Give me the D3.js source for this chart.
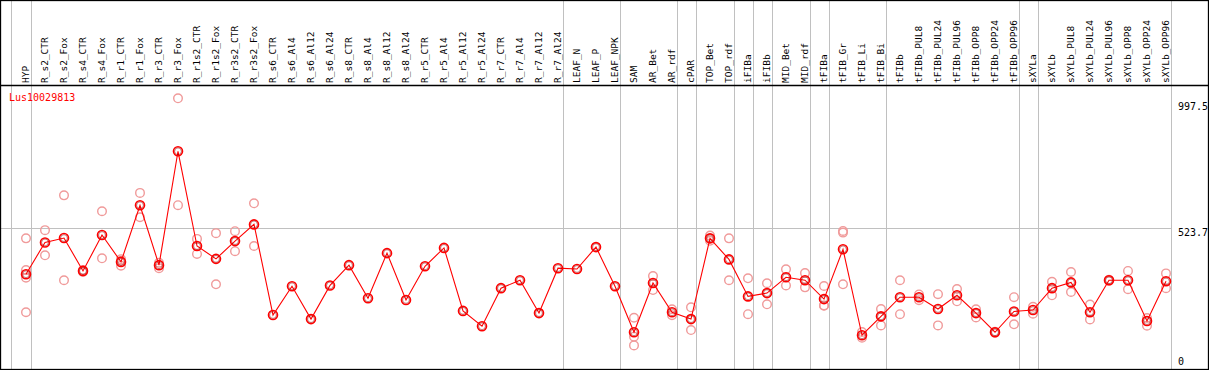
<!DOCTYPE html>
<html><head><meta charset="utf-8">
<script src="https://cdn.jsdelivr.net/npm/d3@7"></script>
<style>
html,body{margin:0;padding:0;background:#fff;}
svg{display:block;}
text{font-family:"DejaVu Sans Mono",monospace;}
</style></head>
<body><svg id="c" width="1209" height="370"></svg>
<script>
const title = "Lus10029813";
const categories = ["HYP","R_s2_CTR","R_s2_Fox","R_s4_CTR","R_s4_Fox","R_r1_CTR","R_r1_Fox","R_r3_CTR","R_r3_Fox","R_r1s2_CTR","R_r1s2_Fox","R_r3s2_CTR","R_r3s2_Fox","R_s6_CTR","R_s6_Al4","R_s6_Al12","R_s6_Al24","R_s8_CTR","R_s8_Al4","R_s8_Al12","R_s8_Al24","R_r5_CTR","R_r5_Al4","R_r5_Al12","R_r5_Al24","R_r7_CTR","R_r7_Al4","R_r7_Al12","R_r7_Al24","LEAF_N","LEAF_P","LEAF_NPK","SAM","AR_Bet","AR_rdf","cPAR","TOP_Bet","TOP_rdf","iFIBa","iFIBb","MID_Bet","MID_rdf","tFIBa","tFIB_Gr","tFIB_Li","tFIB_Bi","tFIBb","tFIBb_PUL8","tFIBb_PUL24","tFIBb_PUL96","tFIBb_OPP8","tFIBb_OPP24","tFIBb_OPP96","sXYLa","sXYLb","sXYLb_PUL8","sXYLb_PUL24","sXYLb_PUL96","sXYLb_OPP8","sXYLb_OPP24","sXYLb_OPP96"];
const means = [355,471,487,367,498,400,607,388,804,458,411,476,537,206,311,191,314,388,267,432,261,384,451,221,165,304,333,213,377,374,454,311,143,323,216,191,486,409,274,286,344,333,264,446,132,201,271,271,228,278,213,143,219,224,304,325,216,333,333,184,329];
const replicates = [[486,370,342,216],[516,424],[643,333],[370,363],[585,413],[410,404,386],[652,563],[397,377],[997.5,607],[484,429],[505,318],[512,439],[614,458],[],[],[],[],[],[],[],[],[],[],[],[],[],[],[],[],[],[],[],[196,127,95],[348,297],[227,205],[234,151],[496,477],[486,333],[340,209],[322,245],[373,314],[359,307],[312,241,240],[513,507,318],[144,123],[228,168],[333,209],[281,260],[282,168],[301,256],[227,197],[145,141],[271,172],[236,211],[327,278],[363,290],[244,190],[335,331],[367,300],[195,167],[358,304]];
const groupEnds = ["HYP","R_r7_Al24","LEAF_NPK","AR_rdf","cPAR","TOP_rdf","iFIBa","iFIBb","MID_rdf","tFIBa","tFIB_Bi","tFIBb_OPP96","sXYLa","sXYLb_OPP96"];
const tickValues = [997.5, 523.7, 0];
const tickLabels = ["997.5","523.7","0"];
const gridValue = 523.7;

const svg = d3.select("#c");
const x = d3.scalePoint().domain(categories).range([26, 1166]);
const y = d3.scaleLinear().domain([0, 997.5]).range([371.4, 98.3]);
const gray = "#c0c0c0";

// vertical separators
const seps = [x(categories[0]) - 15.3].concat(groupEnds.map(c => x(c) + 4.7));
svg.selectAll("line.sep").data(seps).enter().append("line")
  .attr("x1", d => Math.round(d) + 0.5).attr("x2", d => Math.round(d) + 0.5)
  .attr("y1", 0).attr("y2", 370).attr("stroke", gray).attr("stroke-width", 1);

// horizontal grid
svg.append("line").attr("x1", 1).attr("x2", Math.round(x(categories[categories.length-1]) + 4.7) + 0.5)
  .attr("y1", Math.round(y(gridValue)) + 0.5).attr("y2", Math.round(y(gridValue)) + 0.5)
  .attr("stroke", gray).attr("stroke-width", 1);

// borders
svg.append("rect").attr("x", 0.5).attr("y", 0.5).attr("width", 1208).attr("height", 369)
  .attr("fill", "none").attr("stroke", "#000").attr("stroke-width", 1.3);
svg.append("line").attr("x1", 0).attr("x2", 1209).attr("y1", 85.5).attr("y2", 85.5)
  .attr("stroke", "#000").attr("stroke-width", 1.3);

// header labels
svg.selectAll("text.cat").data(categories).enter().append("text")
  .attr("transform", d => `translate(${x(d) + 2.5},83) rotate(-90)`)
  .attr("font-size", "9.5px").attr("fill", "#000").text(d => d);

// title
svg.append("text").attr("x", 9).attr("y", 101).attr("font-size", "10px").attr("fill", "#ff0000").text(title);

// y labels
const dys = [12, 7.7, -6];
svg.selectAll("text.yl").data(tickValues).enter().append("text")
  .attr("x", 1178).attr("y", (d, i) => y(d) + dys[i])
  .attr("font-size", "10px").attr("fill", "#000").text((d, i) => tickLabels[i]);

// replicate points
const reps = [];
replicates.forEach((arr, i) => arr.forEach(v => reps.push({c: categories[i], v})));
svg.selectAll("circle.rep").data(reps).enter().append("circle")
  .attr("cx", d => x(d.c)).attr("cy", d => y(d.v)).attr("r", 4.3)
  .attr("fill", "none").attr("stroke", "#f09a9a").attr("stroke-width", 1.4);

// mean line
const line = d3.line().x((d, i) => x(categories[i])).y(d => y(d));
svg.append("path").datum(means).attr("d", line).attr("fill", "none")
  .attr("stroke", "#ff0000").attr("stroke-width", 1.1);

// mean points
const g = svg.selectAll("g.m").data(means).enter().append("g")
  .attr("transform", (d, i) => `translate(${x(categories[i])},${y(d)})`);
g.append("circle").attr("r", 4.5).attr("fill", "none").attr("stroke", "#ff0000").attr("stroke-width", 1.6);
g.append("circle").attr("r", 3.4).attr("fill", "none").attr("stroke", "#900000").attr("stroke-width", 0.5);
</script></body></html>
